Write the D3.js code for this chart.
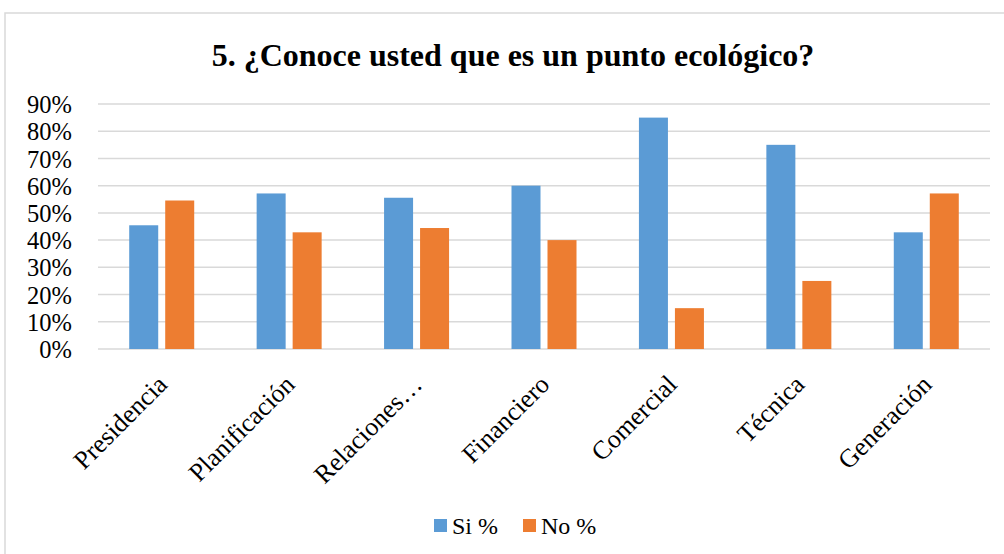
<!DOCTYPE html>
<html>
<head>
<meta charset="utf-8">
<script src="https://cdn.jsdelivr.net/npm/d3@7"></script>
<style>
  body { margin: 0; background: #fff; }
</style>
</head>
<body>
<div id="plot"></div>
<script>
// data
var categories = ["Presidencia", "Planificación", "Relaciones…", "Financiero", "Comercial", "Técnica", "Generación"];
var siValues = [0.4545, 0.5714, 0.5556, 0.60, 0.85, 0.75, 0.4286];
var noValues = [0.5455, 0.4286, 0.4444, 0.40, 0.15, 0.25, 0.5714];
var yTicks = [0, 0.1, 0.2, 0.3, 0.4, 0.5, 0.6, 0.7, 0.8, 0.9];
var seriesNames = ["Si %", "No %"];
var colors = ["#5B9BD5", "#ED7D31"];

var FONT = "'Liberation Serif', 'Times New Roman', serif";

var svgWidth = 1004, svgHeight = 554;
var margin = { top: 104, right: 14, bottom: 205, left: 98 };
var width = svgWidth - margin.left - margin.right;
var height = svgHeight - margin.top - margin.bottom;

var svg = d3.select("#plot").append("svg")
    .attr("width", svgWidth)
    .attr("height", svgHeight)
    .attr("font-family", FONT);

// chart border
svg.append("rect")
    .attr("x", 5).attr("y", 13)
    .attr("width", 1010).attr("height", 560)
    .attr("fill", "none")
    .attr("stroke", "#d9d9d9")
    .attr("stroke-width", 1.5);

svg.append("text")
    .attr("x", 513).attr("y", 66)
    .attr("text-anchor", "middle")
    .attr("font-family", FONT)
    .style("font-size", "32px")
    .style("font-weight", "bold")
    .text("5. ¿Conoce usted que es un punto ecológico?");

var chartGroup = svg.append("g")
    .attr("transform", `translate(${margin.left}, ${margin.top})`);

var xScale = d3.scaleBand()
    .domain(categories)
    .range([0, width]);

var yScale = d3.scaleLinear()
    .domain([0, 0.9])
    .range([height, 0]);

// gridlines
chartGroup.selectAll(".grid")
    .data(yTicks)
    .enter()
    .append("line")
    .attr("x1", 0).attr("x2", width)
    .attr("y1", d => yScale(d)).attr("y2", d => yScale(d))
    .attr("stroke", "#d9d9d9")
    .attr("stroke-width", 1.5);

// y axis labels
var yAxis = d3.axisLeft(yScale)
    .tickValues(yTicks)
    .tickFormat(d3.format(".0%"))
    .tickSize(0)
    .tickPadding(26);
var yG = chartGroup.append("g").call(yAxis)
    .attr("font-family", FONT)
    .attr("font-size", 24.5);
yG.select(".domain").remove();
yG.selectAll("text")
    .attr("fill", "#000")
    .attr("dy", "0.35em");

// bars
var barW = 29, gap = 7;
var series = [siValues, noValues];
series.forEach(function (vals, s) {
    chartGroup.selectAll(".bar" + s)
        .data(vals)
        .enter()
        .append("rect")
        .attr("x", (d, i) => xScale(categories[i]) + xScale.bandwidth() / 2 + (s === 0 ? -gap / 2 - barW : gap / 2))
        .attr("y", d => yScale(d))
        .attr("width", barW)
        .attr("height", d => height - yScale(d))
        .attr("fill", colors[s]);
});

// x labels rotated
chartGroup.selectAll(".xlab")
    .data(categories)
    .enter()
    .append("text")
    .attr("transform", d => `translate(${xScale(d) + xScale.bandwidth() / 2 + 7}, ${height + 37}) rotate(-45)`)
    .attr("text-anchor", "end")
    .attr("font-family", FONT)
    .style("font-size", "26px")
    .text(d => d);

// legend
var legend = svg.append("g").attr("transform", "translate(434, 526)");
var legX = [0, 89];
seriesNames.forEach(function (name, i) {
    legend.append("rect")
        .attr("x", legX[i]).attr("y", -7)
        .attr("width", 13).attr("height", 13)
        .attr("fill", colors[i]);
    legend.append("text")
        .attr("x", legX[i] + 18).attr("y", 0)
        .attr("dy", "0.35em")
        .attr("font-family", FONT)
        .style("font-size", "24px")
        .text(name);
});
</script>
</body>
</html>
